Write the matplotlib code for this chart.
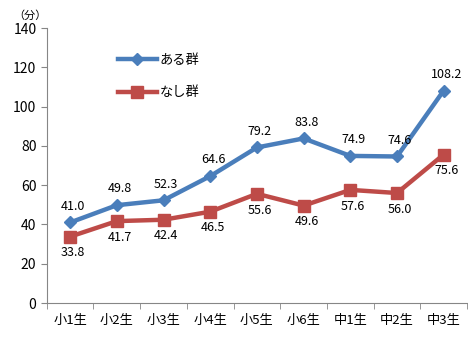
import matplotlib.pyplot as plt
import numpy as np

plt.rcParams['font.family'] = ['Noto Sans CJK JP', 'DejaVu Sans']

grades = ["小1生", "小2生", "小3生", "小4生", "小5生", "小6生", "中1生", "中2生", "中3生"]
aru = [41.0, 49.8, 52.3, 64.6, 79.2, 83.8, 74.9, 74.6, 108.2]
nashi = [33.8, 41.7, 42.4, 46.5, 55.6, 49.6, 57.6, 56.0, 75.6]

fig = plt.figure(figsize=(4.68, 3.42), dpi=100)
ax = fig.add_axes([0.1, 0.114, 0.898, 0.804])

x = np.arange(len(grades))
ax.plot(x, aru, color="#4A7EBB", lw=3.2, marker="D", ms=6.5, label="ある群")
ax.plot(x, nashi, color="#BE4B48", lw=3.2, marker="s", ms=8.5, label="なし群")

for xi, v in zip(x, aru):
    ax.annotate(f"{v:.1f}", (xi, v), xytext=(2, 7), textcoords="offset points",
                ha="center", va="bottom", fontsize=9)
for xi, v in zip(x, nashi):
    ax.annotate(f"{v:.1f}", (xi, v), xytext=(2, -7), textcoords="offset points",
                ha="center", va="top", fontsize=9)

ax.set_xlim(-0.5, len(grades) - 0.5)
ax.set_ylim(0, 140)
ax.set_yticks(range(0, 141, 20))
ax.set_xticks(x)
ax.set_xticklabels(grades, fontsize=9.5)
ax.set_xticks(np.arange(-0.5, len(grades)), minor=True)
ax.tick_params(axis="x", which="major", length=0, pad=8)
ax.tick_params(axis="x", which="minor", length=4, color="#868686")
ax.tick_params(axis="y", length=4, color="#868686", labelsize=10)

for s in ["top", "right"]:
    ax.spines[s].set_visible(False)
ax.spines["left"].set_color("#868686")
ax.spines["bottom"].set_color("#868686")

fig.text(0.065, 0.955, "（分）", fontsize=8, ha="center", va="center")

ax.legend(loc="upper left", bbox_to_anchor=(0.14, 0.95), frameon=False,
          fontsize=9.5, handlelength=3, labelspacing=1.5, handletextpad=0.2)

fig.savefig("out.png")
